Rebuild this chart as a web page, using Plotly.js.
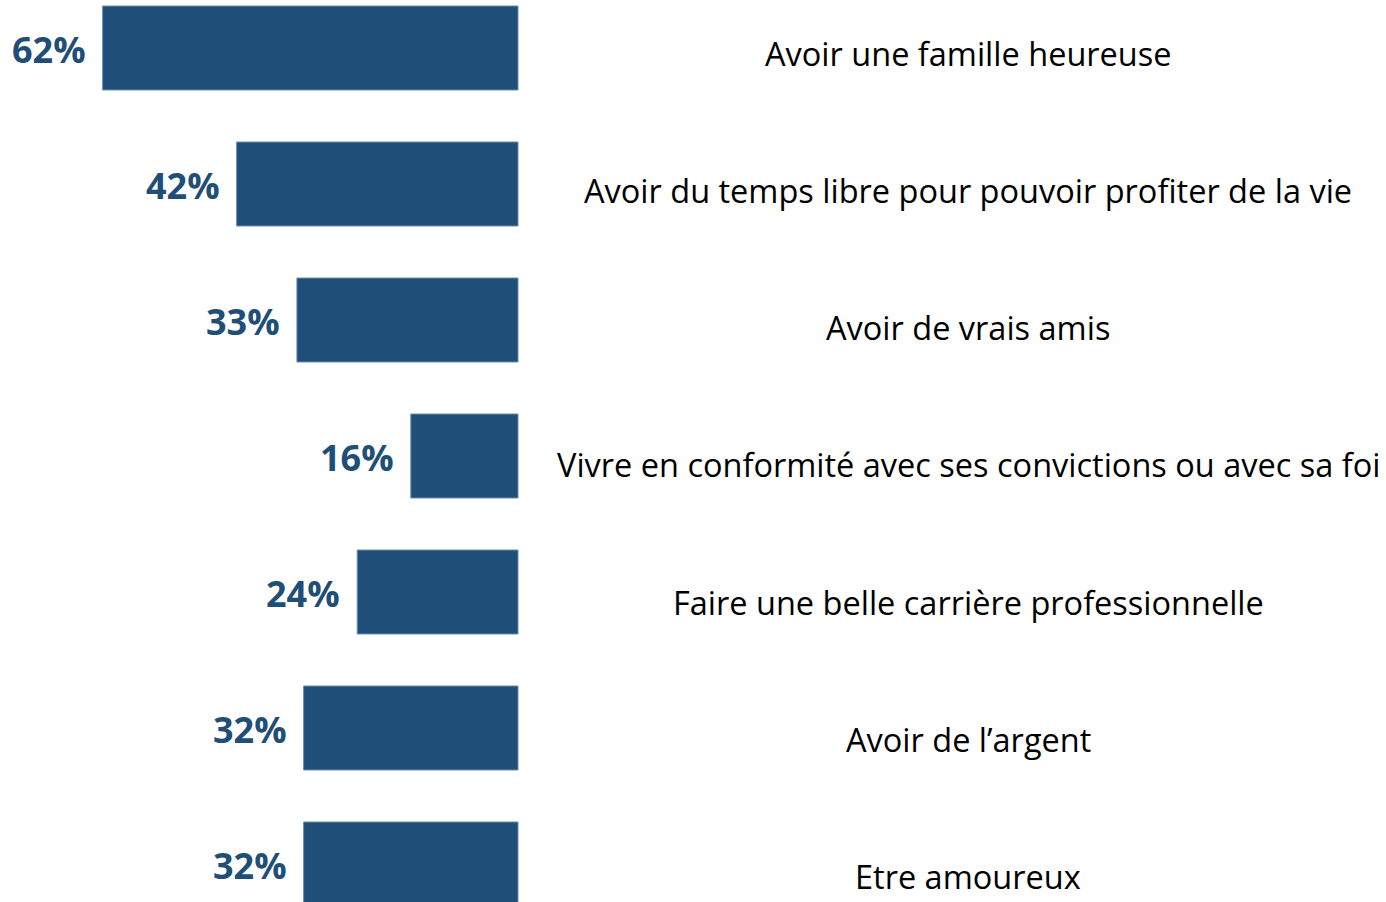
<!DOCTYPE html>
<html>
<head>
<meta charset="utf-8">
<script src="https://cdn.plot.ly/plotly-3.0.1.min.js"></script>
<style>html,body{margin:0;padding:0;background:#fff;}#chart{width:1386px;height:902px;}</style>
</head>
<body>
<div id="chart"></div>
<script>
const categories = [
  "Avoir une famille heureuse",
  "Avoir du temps libre pour pouvoir profiter de la vie",
  "Avoir de vrais amis",
  "Vivre en conformité avec ses convictions ou avec sa foi",
  "Faire une belle carrière professionnelle",
  "Avoir de l’argent",
  "Etre amoureux"
];
const values = [62, 42, 33, 16, 24, 32, 32];

const barColor = "#1F4E78";
const ids = categories.map((c, i) => i);

const trace = {
  type: "bar",
  orientation: "h",
  x: values,
  y: ids,
  width: 84 / 136,
  marker: { color: barColor, line: { color: "#6F8FB0", width: 1 } },
  hoverinfo: "skip",
  textposition: "none"
};

const annotations = [];
values.forEach((v, i) => {
  annotations.push({
    xref: "x", yref: "y", x: v, y: i,
    text: v + "%", showarrow: false,
    xanchor: "right", yanchor: "middle", xshift: -15, yshift: -1,
    font: { family: "Open Sans", size: 36, color: barColor, weight: "bold" }
  });
});
categories.forEach((c, i) => {
  annotations.push({
    xref: "paper", yref: "y2", x: 968 / 1386, y: i,
    text: c, showarrow: false,
    xanchor: "center", yanchor: "middle",
    font: { family: "Open Sans", size: 32.5, color: "#000000" }
  });
});

const layout = {
  width: 1386, height: 902,
  margin: { l: 0, r: 0, t: 0, b: 0, pad: 0 },
  paper_bgcolor: "#ffffff", plot_bgcolor: "#ffffff",
  showlegend: false,
  xaxis: { range: [518 / 6.70, -(1386 - 518) / 6.70], visible: false, fixedrange: true },
  yaxis: { range: [(902 - 48) / 136, -48 / 136], visible: false, fixedrange: true },
  yaxis2: { overlaying: "y", range: [(902 - 53) / 137.3, -53 / 137.3], visible: false, fixedrange: true },
  annotations: annotations
};

Plotly.newPlot("chart", [trace], layout, { displayModeBar: false, staticPlot: true });
</script>
</body>
</html>
